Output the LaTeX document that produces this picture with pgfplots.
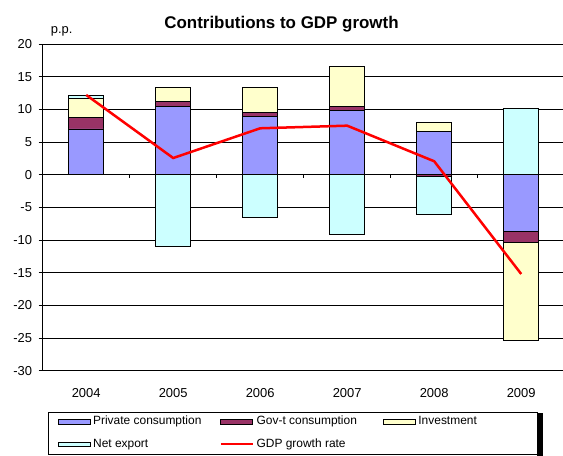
\documentclass[border=0pt]{standalone}
\usepackage{pgfplots}
\pgfplotsset{compat=1.18}
\usepackage{pgfplotstable}
\usepackage{fontspec}
\setmainfont{Liberation Sans}

\definecolor{privc}{HTML}{9999FF}
\definecolor{govc}{HTML}{993366}
\definecolor{invc}{HTML}{FFFFCC}
\definecolor{nexc}{HTML}{CCFFFF}

% positive parts of the contributions (p.p.)
\pgfplotstableread{
x P G I N
0 7.0 1.8 2.85 0.5
1 10.5 0.75 2.15 0
2 8.95 0.55 3.9 0
3 9.86 0.6 6.15 0
4 6.6 0 1.4 0
5 0 0 0 10.1
}\postab
% negative parts
\pgfplotstableread{
x P G I N
0 0 0 0 0
1 0 0 0 -11.0
2 0 0 0 -6.5
3 0 0 0 -9.1
4 0 -0.2 0 -5.9
5 -8.7 -1.7 -14.9 0
}\negtab
\pgfplotstableread{
x g
0 12.2
1 2.55
2 7.1
3 7.5
4 2.05
5 -15.2
}\gdptab

\pgfplotsset{
  base/.style={
    scale only axis, width=522bp, height=326.7bp,
    xmin=-0.5, xmax=5.5, ymin=-30, ymax=20,
    at={(42.7bp,85.3bp)}, anchor=south west,
  },
  barsty/.style={draw=black, line width=0.8bp},
  sw/.style={legend image code/.code={\draw[##1] (0bp,-2.2bp) rectangle (32bp,2.2bp);}},
  lsw/.style={legend image code/.code={\draw[##1] (0bp,0bp) -- (32bp,0bp);}},
}

\begin{document}
\begin{tikzpicture}
\begin{axis}[base, ybar stacked, bar width=0.4,
  axis lines*=left,
  axis line style={black, line width=0.8bp},
  ymajorgrids, grid style={black, line width=0.6bp},
  ytick={-30,-25,...,20},
  xtick={0,...,5}, xticklabels={2004,2005,2006,2007,2008,2009},
  tick align=outside, major tick length=4bp,
  x tick style={draw=none},
  y tick style={black, line width=0.6bp},
  /pgf/number format/assume math mode=true,
  ticklabel style={font=\fontsize{13}{15}\selectfont},
  yticklabel style={inner xsep=0pt, xshift=-6.5bp},
  xticklabel style={anchor=north, inner sep=0pt, yshift=-14bp},
]
\addplot[barsty, fill=privc] table[x=x, y=P]{\postab};
\addplot[barsty, fill=govc] table[x=x, y=G]{\postab};
\addplot[barsty, fill=invc] table[x=x, y=I]{\postab};
\addplot[barsty, fill=nexc] table[x=x, y=N]{\postab};
\end{axis}

\begin{axis}[base, ybar stacked, bar width=0.4, hide axis]
\addplot[barsty, fill=privc] table[x=x, y=P]{\negtab};
\addplot[barsty, fill=govc] table[x=x, y=G]{\negtab};
\addplot[barsty, fill=invc] table[x=x, y=I]{\negtab};
\addplot[barsty, fill=nexc] table[x=x, y=N]{\negtab};
\end{axis}

% shadow of the legend box
\fill[black] (536.5bp,-2bp) rectangle (542.5bp,43bp);

\begin{axis}[base, hide y axis,
  axis x line*=middle,
  axis line style={draw=none},
  xtick={0.5,1.5,...,4.5}, xticklabels={},
  tick align=outside, major tick length=3bp,
  x tick style={black, line width=0.6bp},
  legend columns=3, legend cell align=left,
  legend style={at={(axis description cs:0.0102,-0.1249)}, anchor=north west,
    draw=black, line width=0.6bp, fill=white,
    font=\fontsize{12}{14}\selectfont,
    inner xsep=9.5bp, inner ysep=4bp, row sep=10.3bp, column sep=0pt,
    nodes={inner xsep=2.5bp, inner ysep=0pt, text height=9bp, text depth=3bp}},
]
\addlegendimage{sw, barsty, fill=privc}
\addlegendimage{sw, barsty, fill=govc}
\addlegendimage{sw, barsty, fill=invc}
\addlegendimage{sw, barsty, fill=nexc}
\addplot[red, line width=2.5bp, sharp plot, mark=none, lsw]
  table[x=x, y=g]{\gdptab};
\legend{\makebox[124bp][l]{Private consumption}, \makebox[124bp][l]{Gov-t consumption},
  \makebox[107bp][l]{Investment}, \makebox[124bp][l]{Net export},
  \makebox[124bp][l]{GDP growth rate}}
\end{axis}

\node[anchor=base, font=\fontsize{17}{20}\selectfont\bfseries] at (281.5bp,427.7bp) {Contributions to GDP growth};
\node[anchor=base west, inner sep=0pt, font=\fontsize{13}{15}\selectfont] at (50.7bp,422bp) {p.p.};

\pgfresetboundingbox
\path[use as bounding box] (0,0) rectangle (563bp,456bp);
\end{tikzpicture}
\end{document}
